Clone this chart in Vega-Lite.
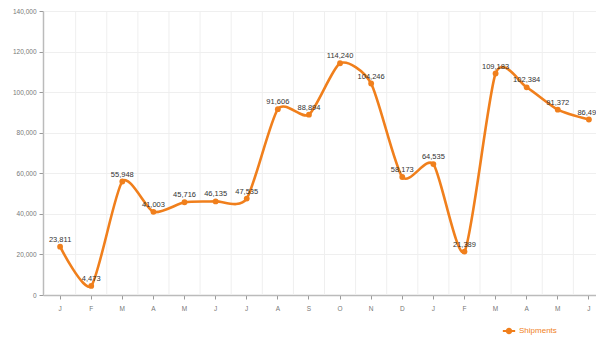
{
  "$schema": "https://vega.github.io/schema/vega-lite/v6.json",
  "autosize": "none",
  "width": 563,
  "height": 284,
  "padding": {"left": 43, "top": 11, "right": 0, "bottom": 42},
  "background": "white",
  "config": {
    "view": {"stroke": null},
    "font": "Liberation Sans",
    "axis": {"labelFont": "Liberation Sans", "labelColor": "#777", "labelFontSize": 6.5, "domainColor": "#bbb", "tickColor": "#999", "gridColor": "#efefef", "gridWidth": 1}
  },
  "data": {
    "values": [
      {"idx": 1, "month": "J", "shipments": 23811},
      {"idx": 2, "month": "F", "shipments": 4473},
      {"idx": 3, "month": "M", "shipments": 55948},
      {"idx": 4, "month": "A", "shipments": 41003},
      {"idx": 5, "month": "M", "shipments": 45716},
      {"idx": 6, "month": "J", "shipments": 46135},
      {"idx": 7, "month": "J", "shipments": 47535},
      {"idx": 8, "month": "A", "shipments": 91606},
      {"idx": 9, "month": "S", "shipments": 88894},
      {"idx": 10, "month": "O", "shipments": 114240},
      {"idx": 11, "month": "N", "shipments": 104246},
      {"idx": 12, "month": "D", "shipments": 58173},
      {"idx": 13, "month": "J", "shipments": 64535},
      {"idx": 14, "month": "F", "shipments": 21389},
      {"idx": 15, "month": "M", "shipments": 109183},
      {"idx": 16, "month": "A", "shipments": 102384},
      {"idx": 17, "month": "M", "shipments": 91372},
      {"idx": 18, "month": "J", "shipments": 86495}
    ]
  },
  "encoding": {
    "x": {
      "field": "idx",
      "type": "ordinal",
      "scale": {"type": "band", "paddingInner": 0, "paddingOuter": 0.05},
      "axis": {"grid": false, "title": null, "labelExpr": "['J','F','M','A','M','J','J','A','S','O','N','D','J','F','M','A','M','J'][datum.value - 1]", "labelAngle": 0, "labelPadding": 6, "tickSize": 4, "domainWidth": 1.5}
    },
    "y": {
      "field": "shipments",
      "type": "quantitative",
      "scale": {"domain": [0, 140000], "nice": false},
      "axis": {"title": null, "values": [0, 20000, 40000, 60000, 80000, 100000, 120000, 140000], "format": ",d", "grid": true, "tickSize": 4, "labelPadding": 3, "domainWidth": 1.5}
    }
  },
  "layer": [
    {
      "mark": {"type": "rule", "color": "#efefef", "strokeWidth": 1},
      "encoding": {
        "x": {"field": "idx", "type": "ordinal", "bandPosition": 0},
        "y": {"value": 0},
        "y2": {"value": 284}
      }
    },
    {
      "mark": {"type": "line", "interpolate": "cardinal", "tension": 0.3, "strokeWidth": 2.6, "point": {"filled": true, "size": 34}},
      "encoding": {
        "color": {
          "datum": "Shipments",
          "scale": {"range": ["#f07f1c"]},
          "legend": {
            "title": null,
            "orient": "none",
            "legendX": 460,
            "legendY": 314,
            "symbolType": "M-1.3,0L1.3,0M-0.45,0a0.45,0.45 0 1,0 0.9,0a0.45,0.45 0 1,0 -0.9,0",
            "symbolSize": 90,
            "symbolStrokeWidth": 2.2,
            "symbolFillColor": "#f07f1c",
            "labelColor": "#f07f1c",
            "labelFontSize": 8,
            "labelFont": "Liberation Sans"
          }
        }
      }
    },
    {
      "mark": {"type": "text", "dy": -7, "fontSize": 7.5, "color": "#333", "font": "Liberation Sans"},
      "encoding": {
        "text": {"field": "shipments", "type": "quantitative", "format": ","}
      }
    }
  ]
}
